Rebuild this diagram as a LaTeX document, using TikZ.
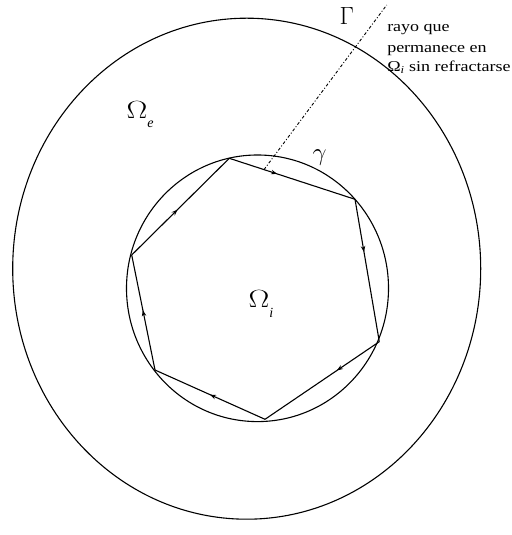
\documentclass[tikz,border=0pt]{standalone}
\usepackage{fontspec}
\usepackage{graphicx}
\setmainfont{Liberation Serif}
\newfontfamily\lblfont{Liberation Serif}[FakeStretch=1.2]
\usetikzlibrary{decorations.markings,arrows.meta}
\newcommand{\wideOmega}{\scalebox{1.25}[1]{$\Omega$}}
\newcommand{\subtxt}[1]{{\fontsize{14}{14}\selectfont\itshape #1}}
\begin{document}
\begin{tikzpicture}[x=1pt,y=1pt,line width=1.1pt,
  lbl/.style={inner sep=0pt,font=\lblfont\fontsize{15}{20}\selectfont},
  biglbl/.style={inner sep=0pt,font=\fontsize{23}{26}\selectfont},
  raystyle/.style={line width=0.9pt,dash pattern=on 3pt off 2pt on 1pt off 2pt},
  flow/.style={postaction={decorate},decoration={markings,
    mark=at position #1 with {\arrow{Stealth[length=6pt,width=4.5pt]}}}}
]
\useasboundingbox (0,0) rectangle (511,535);
% domains
\draw (246.7,266.3) ellipse [x radius=234, y radius=250.5];
\draw (257.5,246.7) ellipse [x radius=131, y radius=133.3];
% polygon vertices
\coordinate (v1) at (229.3,376.7);
\coordinate (v2) at (355,335.7);
\coordinate (v3) at (379.3,193.3);
\coordinate (v4) at (265,115.7);
\coordinate (v5) at (155,165);
\coordinate (v6) at (131.7,280);
\draw[flow=0.38] (v1) -- (v2);
\draw[flow=0.37] (v2) -- (v3);
\draw[flow=0.37] (v3) -- (v4);
\draw[flow=0.5] (v4) -- (v5);
\draw[flow=0.52] (v5) -- (v6);
\draw[flow=0.47] (v6) -- (v1);
% ray
\coordinate (rs) at (264,365.4);
\coordinate (re) at (386.7,530);
\draw[raystyle] (rs) -- (re);
% labels
\node[biglbl] (Gam) at (346.7,519) {$\Gamma$};
\node[biglbl] (gam) at (319.5,377) {$\gamma$};
\node[biglbl,anchor=base west] (Oe) at (126,416) {\wideOmega\raisebox{-9pt}{\subtxt{e}}};
\node[biglbl,anchor=base west] (Oi) at (248,227) {\wideOmega\raisebox{-10pt}{\subtxt{i}}};
\node[lbl,anchor=base west] (t1) at (386.7,503) {rayo que};
\node[lbl,anchor=base west] (t2) at (386.7,482.3) {permanece en};
\node[lbl,anchor=base west] (t3) at (386.7,463.3) {Ω\textsubscript{\itshape i} sin refractarse};
\end{tikzpicture}
\end{document}
